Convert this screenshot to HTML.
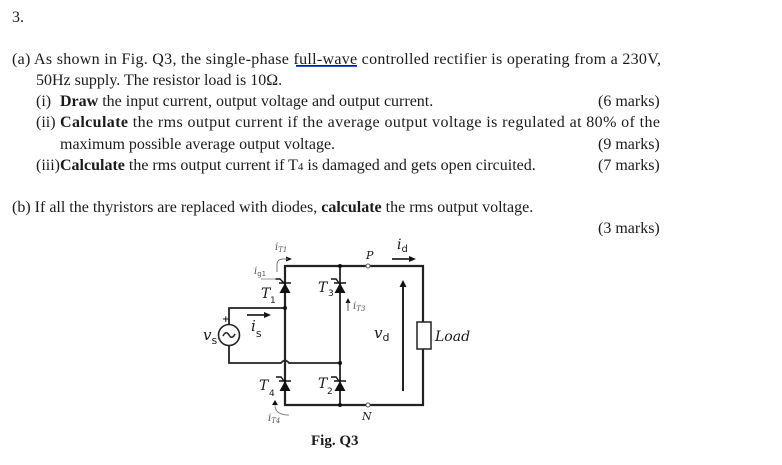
<!DOCTYPE html>
<html><head><meta charset="utf-8"><style>
html,body{margin:0;padding:0;background:#fff}
svg{display:block}
text{font-family:"Liberation Serif","Noto Serif CJK SC",serif;font-size:16px;fill:#1a1a1a}
.m{font-family:"DejaVu Serif",serif;font-style:italic}
.s{font-family:"DejaVu Sans",sans-serif}
.g{fill:#555}
</style></head><body>
<svg width="782" height="465" viewBox="0 0 782 465" xmlns="http://www.w3.org/2000/svg">
<rect width="782" height="465" fill="#fff"/>
<text x="12" y="22">3.</text>
<text x="12" y="64" textLength="649">(a) As shown in Fig. Q3, the single-phase full-wave controlled rectifier is operating from a 230V,</text>
<line x1="296" y1="65.500" x2="357" y2="65.500" stroke="#222" stroke-width="1"/>
<line x1="296" y1="66.500" x2="357" y2="66.500" stroke="#2a5fd0" stroke-width="1"/>
<text x="36" y="85">50Hz supply. The resistor load is 10Ω.</text>
<text x="36" y="106">(i)</text><text x="60" y="106"><tspan font-weight="bold">Draw</tspan> the input current, output voltage and output current.</text>
<text x="598" y="106">(6 marks)</text>
<text x="36" y="127">(ii)</text><text x="60" y="127" textLength="600"><tspan font-weight="bold">Calculate</tspan> the rms output current if the average output voltage is regulated at 80% of the</text>
<text x="60" y="149">maximum possible average output voltage.</text>
<text x="598" y="149">(9 marks)</text>
<text x="36" y="170">(iii)<tspan font-weight="bold">Calculate</tspan> the rms output current if T<tspan style="font-size:11px">4</tspan> is damaged and gets open circuited.</text>
<text x="598" y="170">(7 marks)</text>
<text x="12" y="212">(b) If all the thyristors are replaced with diodes, <tspan font-weight="bold">calculate</tspan> the rms output voltage.</text>
<text x="598" y="233">(3 marks)</text>

<g fill="none" stroke="#222" stroke-width="2">
<path d="M285 266H423V405H285Z" stroke-width="2.2"/>
<path d="M340 266V405" stroke-width="1.8"/>
<path d="M229 325V308H285" stroke-width="1.8"/>
<path d="M229 345V363H281Q285 358 289 363H340" stroke-width="1.8"/>
<path d="M285 266V359" stroke-width="1.8"/>
<path d="M285 367V405" stroke-width="1.8"/>
</g>
<rect x="417" y="322" width="14" height="27" fill="#fff" stroke="#222" stroke-width="1.500"/>
<circle cx="229" cy="335" r="10.500" fill="#fff" stroke="#222" stroke-width="1.600"/>
<path d="M223 336Q226 330 229 335T235 334" fill="none" stroke="#222" stroke-width="1.500"/>
<g fill="#111">
<circle cx="285" cy="308" r="2"/><circle cx="340" cy="266" r="2"/><circle cx="340" cy="363" r="2"/><circle cx="340" cy="405" r="2"/>
<path d="M285 283L279.500 293H290.500Z"/><path d="M340 283L334.500 293H345.500Z"/>
<path d="M285 381L279.500 391H290.500Z"/><path d="M340 381L334.500 391H345.500Z"/>
</g>
<g fill="none" stroke="#111" stroke-width="1.400">
<path d="M279 283H291M275 279H280L284 283"/>
<path d="M334 283H346M331 279H336L339 283"/>
<path d="M279 381H291M276 377H281L284 381"/>
<path d="M334 381H346M331 377H336L339 381"/>
</g>
<circle cx="368" cy="266" r="2" fill="#fff" stroke="#555" stroke-width="1"/>
<circle cx="368" cy="405" r="2" fill="#fff" stroke="#555" stroke-width="1"/>

<g fill="#111" stroke="none">
<path d="M403 280L399.500 287H406.500Z"/>
<path d="M416 259L409 256V262Z"/>
<path d="M271 315L264 312V318Z"/>
<path d="M292 259L286 256.500V261.500Z"/>
<path d="M275 400L272 405H278Z"/>
<path d="M348 298L345.500 303H350.500Z"/>
</g>
<path d="M403 286V391" stroke="#222" stroke-width="2" fill="none"/>
<path d="M392 259H410" stroke="#222" stroke-width="1.800"/>
<path d="M247 315H266" stroke="#222" stroke-width="1.800"/>
<path d="M277 272V265Q277 259 283 259H288" stroke="#777" stroke-width="1" fill="none"/>
<path d="M261 279H276" stroke="#999" stroke-width="1"/>
<path d="M275 405Q275 415 289 415" stroke="#888" stroke-width="1" fill="none"/>
<path d="M348 302V311" stroke="#555" stroke-width="1"/>

<text class="m g" x="275" y="250" style="font-size:10px">i<tspan style="font-size:7px" dy="2">T1</tspan></text>
<text class="m g" x="254" y="274" style="font-size:10px">i<tspan class="s" style="font-size:7px;font-style:normal" dy="2">g1</tspan></text>
<text class="m" x="261" y="298" style="font-size:14px">T</text><text class="s" x="270" y="303" style="font-size:9px">1</text>
<text class="m" x="318" y="292" style="font-size:14px">T</text><text class="s" x="328" y="296" style="font-size:9px">3</text>
<text class="m g" x="353" y="309" style="font-size:10px">i<tspan style="font-size:7px" dy="2">T3</tspan></text>
<text class="m" x="259" y="390" style="font-size:14px">T</text><text class="s" x="269" y="396" style="font-size:9px">4</text>
<text class="m" x="318" y="388" style="font-size:14px">T</text><text class="s" x="327" y="394" style="font-size:9px">2</text>
<text class="m g" x="268" y="421" style="font-size:10px">i<tspan style="font-size:7px" dy="2">T4</tspan></text>
<text class="m" x="366" y="259" style="font-size:11px">P</text>
<text class="m" x="362" y="420" style="font-size:11px">N</text>
<text class="m" x="397" y="249" style="font-size:14px">i<tspan class="s" style="font-size:10px;font-style:normal" dy="3">d</tspan></text>
<text class="m" x="374" y="338" style="font-size:15px">v<tspan class="s" style="font-size:11px;font-style:normal" dy="3">d</tspan></text>
<text class="m" x="203" y="340" style="font-size:15px">v<tspan class="s" style="font-size:11px;font-style:normal" dy="4">s</tspan></text>
<text class="m" x="251" y="331" style="font-size:15px">i<tspan class="s" style="font-size:11px;font-style:normal" dy="6">s</tspan></text>
<text class="m" x="435" y="341" style="font-size:14px">Load</text>
<text x="222" y="322" class="s" style="font-size:9px;font-weight:bold">+</text>
<text x="311" y="445" font-weight="bold" style="font-size:15px">Fig. Q3</text>
</svg>
</body></html>
